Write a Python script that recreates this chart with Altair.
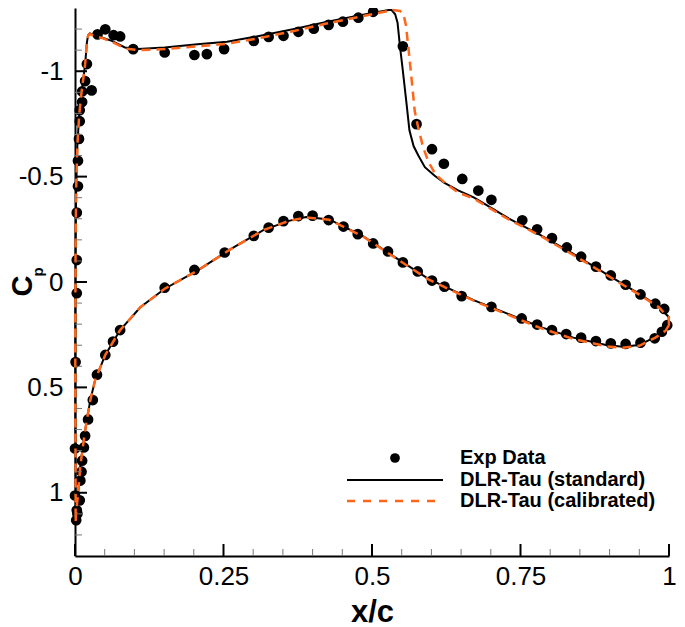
import altair as alt
import pandas as pd

# ---------------- data ----------------
exp_x = [0.002, 0.004, 0.003, 0.008, 0.0, 0.009, 0.011, 0.012, 0.0, 0.015, 0.017, 0.022, 0.03,
         0.001, 0.003, 0.003, 0.003, 0.005, 0.005, 0.0067, 0.008, 0.008, 0.012, 0.012, 0.028,
         0.017, 0.02, 0.038, 0.051, 0.065, 0.076, 0.098, 0.151, 0.201, 0.222, 0.251, 0.301,
         0.326, 0.351, 0.376, 0.402, 0.427, 0.451, 0.477, 0.502, 0.552, 0.575, 0.601, 0.621,
         0.652, 0.679, 0.701, 0.753, 0.778, 0.803, 0.828, 0.852, 0.877, 0.902, 0.927, 0.952,
         0.977, 0.992, 0.997,
         0.037, 0.051, 0.064, 0.076, 0.151, 0.201, 0.252, 0.301, 0.326, 0.351, 0.376, 0.4,
         0.427, 0.452, 0.476, 0.502, 0.527, 0.552, 0.577, 0.601, 0.622, 0.651, 0.701, 0.752,
         0.778, 0.803, 0.827, 0.852, 0.877, 0.902, 0.927, 0.952, 0.976, 0.988]
exp_cp = [1.13, 1.099, 1.083, 1.036, 1.013, 0.942, 0.9, 0.848, 0.79, 0.785, 0.73, 0.652, 0.56,
          0.38, 0.053, -0.104, -0.329, -0.454, -0.575, -0.679, -0.763, -0.815, -0.854, -0.904, -0.909,
          -0.953, -1.034, -1.175, -1.199, -1.171, -1.165, -1.105, -1.089, -1.077, -1.081, -1.105, -1.144,
          -1.163, -1.168, -1.187, -1.202, -1.22, -1.235, -1.254, -1.282, -1.118, -0.749, -0.63, -0.561,
          -0.489, -0.434, -0.39, -0.293, -0.25, -0.208, -0.164, -0.12, -0.073, -0.031, 0.013, 0.059,
          0.103, 0.128, 0.205,
          0.44, 0.346, 0.283, 0.228, 0.027, -0.057, -0.14, -0.219, -0.258, -0.289, -0.313, -0.315,
          -0.294, -0.263, -0.227, -0.183, -0.145, -0.093, -0.05, -0.007, 0.022, 0.067, 0.118, 0.173,
          0.202, 0.228, 0.247, 0.264, 0.28, 0.291, 0.294, 0.288, 0.267, 0.236]

std_x = [1.0, 0.9995, 0.983, 0.95, 0.894, 0.839, 0.783, 0.728, 0.672, 0.645, 0.622, 0.605,
         0.589, 0.578, 0.57, 0.563, 0.558, 0.552, 0.547, 0.543, 0.539, 0.533, 0.528, 0.478,
         0.423, 0.367, 0.312, 0.256, 0.206, 0.151, 0.106, 0.084, 0.062, 0.045, 0.032, 0.025,
         0.022, 0.02, 0.017, 0.011, 0.007, 0.004, 0.002, 0.001, 0.0005, 0.0005, 0.001, 0.001,
         0.002, 0.0055, 0.009, 0.015, 0.02, 0.026, 0.034, 0.051, 0.076, 0.11, 0.151, 0.206,
         0.262, 0.317, 0.36, 0.389, 0.428, 0.484, 0.539, 0.595, 0.672, 0.728, 0.783, 0.839,
         0.894, 0.922, 0.95, 0.977, 0.994, 1.0]
std_cp = [0.2, 0.166, 0.118, 0.056, -0.039, -0.133, -0.224, -0.305, -0.4, -0.435, -0.47, -0.505,
          -0.545, -0.6, -0.645, -0.72, -0.85, -1.0, -1.12, -1.23, -1.27, -1.29, -1.29, -1.265,
          -1.234, -1.199, -1.168, -1.14, -1.128, -1.113, -1.105, -1.113, -1.144, -1.16, -1.168, -1.18,
          -1.17, -1.136, -1.03, -0.9, -0.79, -0.65, -0.45, -0.2, 0.2, 0.6, 0.9, 1.14,
          1.09, 0.997, 0.871, 0.746, 0.652, 0.558, 0.464, 0.346, 0.228, 0.12, 0.032, -0.054,
          -0.156, -0.246, -0.29, -0.308, -0.297, -0.219, -0.117, -0.015, 0.087, 0.15, 0.213, 0.264,
          0.299, 0.307, 0.299, 0.26, 0.228, 0.2]

cal_x = [1.0, 0.9995, 0.983, 0.95, 0.894, 0.839, 0.783, 0.728, 0.672, 0.645, 0.625, 0.607,
         0.595, 0.586, 0.578, 0.572, 0.566, 0.561, 0.557, 0.553, 0.547, 0.535, 0.478,
         0.423, 0.367, 0.312, 0.256, 0.206, 0.151, 0.106, 0.084, 0.062, 0.045, 0.032, 0.025,
         0.022, 0.02, 0.017, 0.011, 0.007, 0.004, 0.002, 0.001, 0.0005, 0.0005, 0.001, 0.001,
         0.002, 0.0055, 0.009, 0.015, 0.02, 0.026, 0.034, 0.051, 0.076, 0.11, 0.151, 0.206,
         0.262, 0.317, 0.36, 0.389, 0.428, 0.484, 0.539, 0.595, 0.672, 0.728, 0.783, 0.839,
         0.894, 0.922, 0.95, 0.977, 0.994, 1.0]
cal_cp = [0.205, 0.17, 0.12, 0.06, -0.035, -0.128, -0.22, -0.3, -0.395, -0.425, -0.465, -0.51,
          -0.57, -0.64, -0.73, -0.81, -0.98, -1.12, -1.22, -1.27, -1.286, -1.29, -1.258,
          -1.226, -1.19, -1.158, -1.13, -1.118, -1.105, -1.1, -1.108, -1.14, -1.158, -1.166, -1.178,
          -1.168, -1.136, -1.03, -0.9, -0.79, -0.65, -0.45, -0.2, 0.2, 0.6, 0.9, 1.14,
          1.09, 0.997, 0.871, 0.746, 0.652, 0.558, 0.464, 0.346, 0.228, 0.12, 0.032, -0.054,
          -0.156, -0.246, -0.29, -0.306, -0.295, -0.217, -0.115, -0.012, 0.09, 0.154, 0.218, 0.27,
          0.305, 0.312, 0.303, 0.264, 0.232, 0.205]

x_major = [0, 0.25, 0.5, 0.75, 1]
x_minor = [0.05, 0.1, 0.15, 0.2, 0.3, 0.35, 0.4, 0.45, 0.55, 0.6, 0.65, 0.7, 0.8, 0.85, 0.9, 0.95]
y_major = [-1, -0.5, 0, 0.5, 1]
y_minor = [-1.2, -1.1, -0.9, -0.8, -0.7, -0.6, -0.4, -0.3, -0.2, -0.1,
           0.1, 0.2, 0.3, 0.4, 0.6, 0.7, 0.8, 0.9, 1.1, 1.2]
legend_labels = ["Exp Data", "DLR-Tau (standard)", "DLR-Tau (calibrated)"]

# ---------------- tables ----------------
exp_df = pd.DataFrame({"x": exp_x, "cp": exp_cp})
std_df = pd.DataFrame({"x": std_x, "cp": std_cp, "i": range(len(std_x))})
cal_df = pd.DataFrame({"x": cal_x, "cp": cal_cp, "i": range(len(cal_x))})

W, H = 594, 548
ORANGE = "#ff6619"
FONT = "Liberation Sans"

xs = alt.Scale(domain=[0, 1], nice=False, zero=False)
ys = alt.Scale(domain=[-1.3, 1.3], reverse=True, nice=False, zero=False)

xaxis = alt.Axis(values=x_major, ticks=False, tickSize=0, grid=False,
                 domainColor="black", domainWidth=2,
                 labelFont=FONT, labelFontSize=26, labelColor="black", labelPadding=7,
                 labelExpr="'' + datum.value", labelFlush=False, labelOverlap=False,
                 title="x/c", titleFont=FONT, titleFontSize=31, titleFontWeight="bold",
                 titleColor="black", titlePadding=8)
yaxis = alt.Axis(values=y_major, ticks=False, tickSize=0, grid=False,
                 domainColor="black", domainWidth=2,
                 labelFont=FONT, labelFontSize=26, labelColor="black", labelPadding=12,
                 labelExpr="'' + datum.value", labelFlush=False, labelOverlap=False,
                 title=None)

pts = alt.Chart(exp_df).mark_circle(size=115, color="black", opacity=1).encode(
    x=alt.X("x:Q", scale=xs, axis=xaxis),
    y=alt.Y("cp:Q", scale=ys, axis=yaxis),
)
std = alt.Chart(std_df).mark_line(color="black", strokeWidth=2).encode(
    x=alt.X("x:Q", scale=xs), y=alt.Y("cp:Q", scale=ys), order="i:Q")
cal = alt.Chart(cal_df).mark_line(color=ORANGE, strokeWidth=2.5, strokeDash=[9, 6]).encode(
    x=alt.X("x:Q", scale=xs), y=alt.Y("cp:Q", scale=ys), order="i:Q")

# inward ticks
xmaj = alt.Chart(pd.DataFrame({"x": x_major})).mark_rule(color="black", strokeWidth=2).encode(
    x=alt.X("x:Q", scale=xs), y=alt.value(H), y2=alt.value(H - 12))
xmin = alt.Chart(pd.DataFrame({"x": x_minor})).mark_rule(color="#777777", strokeWidth=1).encode(
    x=alt.X("x:Q", scale=xs), y=alt.value(H), y2=alt.value(H - 7))
ymaj = alt.Chart(pd.DataFrame({"cp": y_major})).mark_rule(color="black", strokeWidth=2).encode(
    y=alt.Y("cp:Q", scale=ys), x=alt.value(0), x2=alt.value(12))
ymin = alt.Chart(pd.DataFrame({"cp": y_minor})).mark_rule(color="#777777", strokeWidth=1).encode(
    y=alt.Y("cp:Q", scale=ys), x=alt.value(0), x2=alt.value(7))

# y title: C with subscript p
c_title = alt.Chart(pd.DataFrame({"t": ["C"]})).mark_text(
    angle=270, font=FONT, fontSize=29, fontWeight="bold", color="black",
    align="center", baseline="middle").encode(
    text="t:N", x=alt.value(-52), y=alt.value(278))
p_title = alt.Chart(pd.DataFrame({"t": ["p"]})).mark_text(
    angle=270, font=FONT, fontSize=15, fontWeight="bold", color="black",
    align="center", baseline="middle").encode(
    text="t:N", x=alt.value(-37), y=alt.value(264))

# legend
leg_dot = alt.Chart(pd.DataFrame({"t": [legend_labels[0]]})).mark_circle(
    size=95, color="black", opacity=1).encode(x=alt.value(320), y=alt.value(450))
leg_std = alt.Chart(pd.DataFrame({"t": [legend_labels[1]]})).mark_rule(
    color="black", strokeWidth=2).encode(x=alt.value(272), x2=alt.value(368), y=alt.value(472))
leg_cal = alt.Chart(pd.DataFrame({"t": [legend_labels[2]]})).mark_rule(
    color=ORANGE, strokeWidth=2.5, strokeDash=[8, 8]).encode(
    x=alt.value(272), x2=alt.value(368), y=alt.value(493))
leg_texts = []
for lab, py in zip(legend_labels, [450, 472, 493]):
    leg_texts.append(
        alt.Chart(pd.DataFrame({"t": [lab]})).mark_text(
            align="left", baseline="middle", font=FONT, fontSize=20,
            fontWeight="bold", color="black").encode(
            text="t:N", x=alt.value(385), y=alt.value(py)))

chart = alt.layer(
    pts, std, cal, xmin, xmaj, ymin, ymaj, c_title, p_title,
    leg_dot, leg_std, leg_cal, *leg_texts
).properties(
    width=W, height=H,
    autosize=alt.AutoSizeParams(type="none"),
    padding={"left": 67, "top": 0, "right": 8, "bottom": 71},
).configure_view(stroke=None)

chart.save("out.html", embed_options={"renderer": "svg", "actions": False})
